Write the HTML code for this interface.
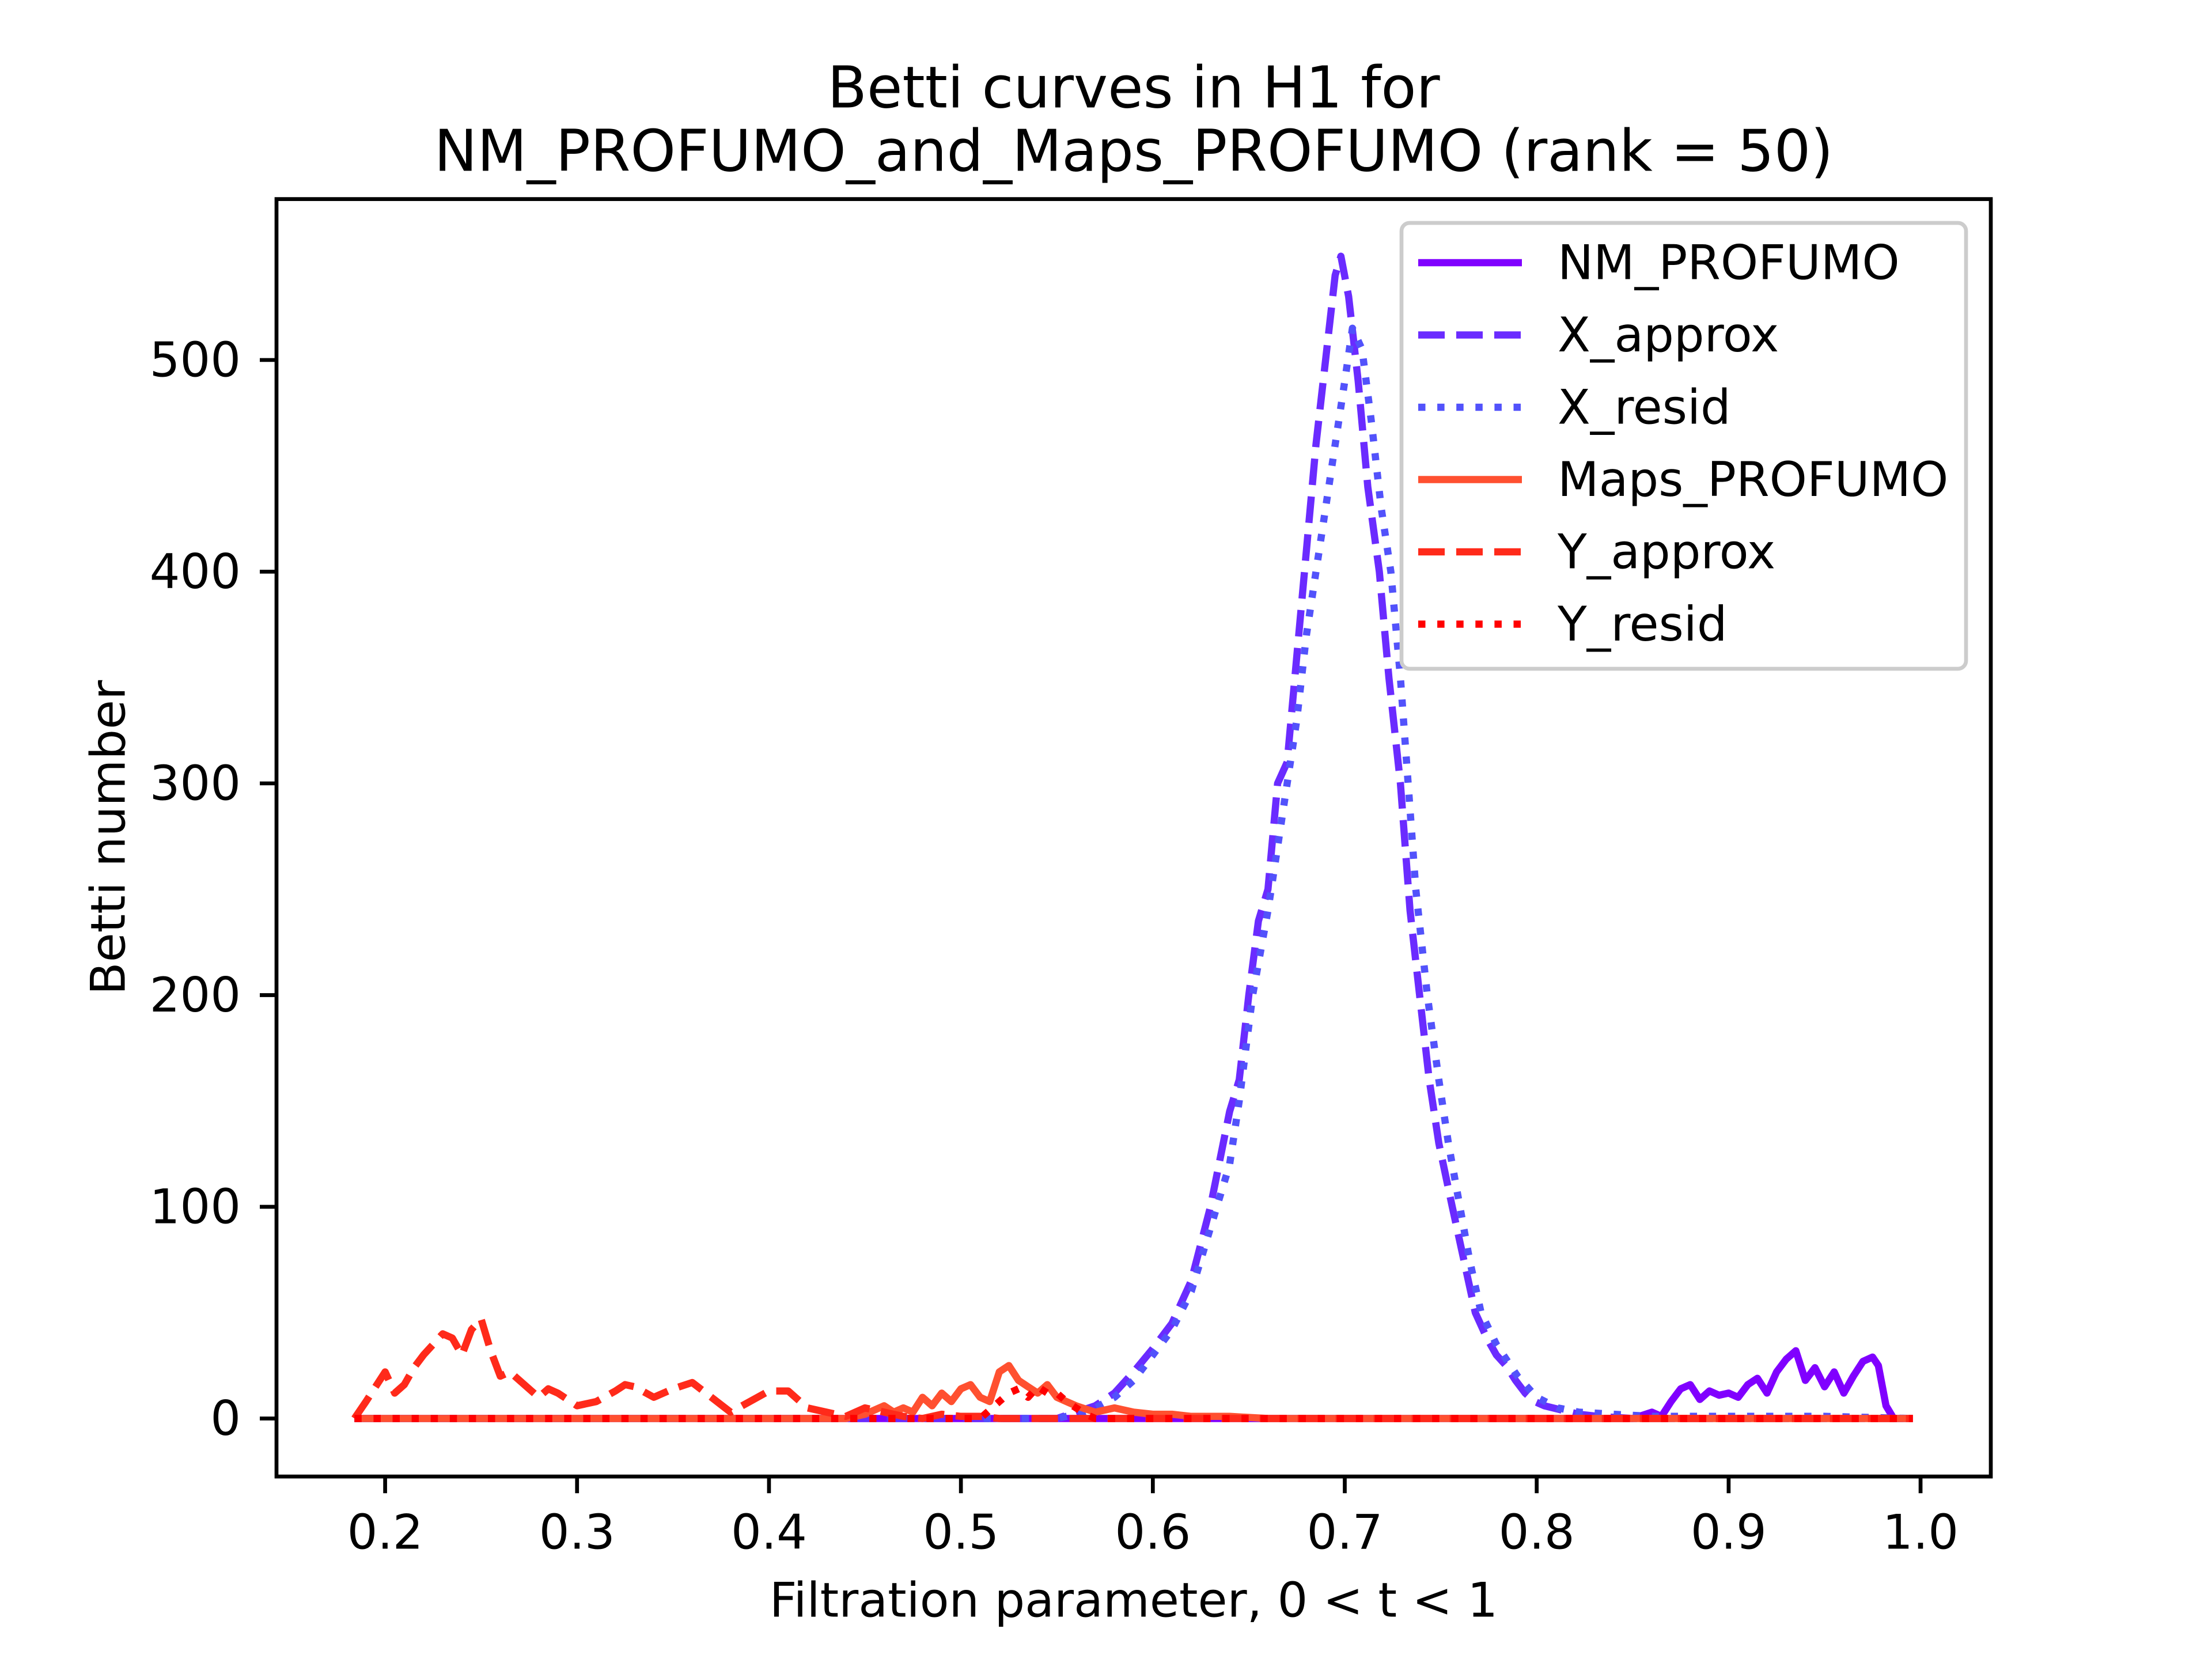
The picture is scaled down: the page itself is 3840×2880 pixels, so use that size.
<!DOCTYPE html>
<html><head><meta charset="utf-8"><style>
html,body{margin:0;padding:0;background:#fff;}
svg{display:block;font-family:"DejaVu Sans","Liberation Sans",sans-serif;}
</style></head><body>
<svg id="chart" width="3840" height="2880" viewBox="0 0 3840 2880" xmlns="http://www.w3.org/2000/svg">
<rect width="3840" height="2880" fill="#fff"/>
<text x="1968" y="152" font-size="100" text-anchor="middle" dominant-baseline="central">Betti curves in H1 for</text>
<text x="1968" y="262" font-size="100" text-anchor="middle" dominant-baseline="central">NM_PROFUMO_and_Maps_PROFUMO (rank = 50)</text>
<g id="plot"></g>
<g id="axes"></g>
<text x="1968" y="2778" font-size="83" text-anchor="middle" dominant-baseline="central">Filtration parameter, 0 &lt; t &lt; 1</text>
<text x="188" y="1454" font-size="83" text-anchor="middle" dominant-baseline="central" transform="rotate(-90 188 1454)">Betti number</text>
<g id="legend"></g>
</svg>
<script>
const xTicks = [0.2,0.3,0.4,0.5,0.6,0.7,0.8,0.9,1.0];
const xTickLabels = ["0.2","0.3","0.4","0.5","0.6","0.7","0.8","0.9","1.0"];
const yTicks = [0,100,200,300,400,500];
const yTickLabels = ["0","100","200","300","400","500"];
const seriesNames = ["NM_PROFUMO","X_approx","X_resid","Maps_PROFUMO","Y_approx","Y_resid"];

const nmT = [0.184,0.85,0.86,0.865,0.87,0.875,0.88,0.885,0.89,0.895,0.9,0.905,0.91,0.915,0.92,0.925,0.93,0.935,0.94,0.945,0.95,0.955,0.96,0.965,0.97,0.975,0.978,0.982,0.986,0.996];
const nmV = [0,0,3,1,8,14,16,9,13,11,12,10,16,19,12,22,28,32,18,24,15,22,12,20,27,29,25,6,0,0];

const xaT = [0.184,0.55,0.56,0.57,0.58,0.59,0.6,0.61,0.62,0.63,0.64,0.645,0.65,0.655,0.66,0.665,0.67,0.675,0.68,0.685,0.69,0.695,0.698,0.702,0.707,0.712,0.718,0.723,0.729,0.734,0.739,0.744,0.749,0.756,0.762,0.768,0.774,0.779,0.784,0.789,0.794,0.799,0.804,0.813,0.822,0.832,0.85,0.996];
const xaV = [0,0,3,6,12,22,33,45,65,100,145,160,200,235,250,300,310,360,410,460,500,540,549,530,490,440,400,350,300,240,200,160,130,100,75,50,38,30,25,18,12,8,6,4,2,1,0,0];

const xrT = [0.184,0.55,0.56,0.57,0.58,0.59,0.6,0.61,0.62,0.63,0.64,0.645,0.652,0.66,0.665,0.67,0.675,0.68,0.685,0.69,0.695,0.7,0.704,0.709,0.714,0.719,0.724,0.729,0.733,0.737,0.743,0.749,0.754,0.76,0.765,0.771,0.779,0.79,0.8,0.811,0.822,0.84,0.86,0.9,0.95,0.996];
const xrV = [0,0,2,5,10,18,30,42,60,90,120,150,200,240,270,300,330,370,400,430,460,490,515,505,470,430,400,350,300,250,200,160,130,100,75,50,35,20,10,5,3,2,1,1,1,0];

const mpT = [0.184,0.44,0.45,0.46,0.465,0.47,0.475,0.48,0.485,0.49,0.495,0.5,0.505,0.51,0.515,0.52,0.525,0.53,0.535,0.54,0.545,0.55,0.555,0.56,0.57,0.58,0.59,0.6,0.61,0.62,0.64,0.66,0.996];
const mpV = [0,0,2,6,3,5,3,10,6,12,8,14,16,10,8,22,25,18,15,12,16,10,8,6,3,5,3,2,2,1,1,0,0];

const yaT = [0.184,0.19,0.2,0.205,0.21,0.215,0.22,0.225,0.23,0.235,0.24,0.245,0.25,0.255,0.26,0.265,0.27,0.28,0.285,0.29,0.3,0.31,0.32,0.325,0.33,0.34,0.35,0.36,0.37,0.38,0.39,0.4,0.41,0.42,0.43,0.44,0.45,0.46,0.47,0.48,0.49,0.5,0.51,0.52,0.53,0.996];
const yaV = [0,8,22,12,16,24,30,35,40,38,30,42,47,32,20,22,18,10,14,12,6,8,13,16,15,10,14,17,10,3,8,13,13,5,3,1,5,3,1,0,2,1,1,0,0,0];

const yrT = [0.184,0.51,0.515,0.52,0.525,0.53,0.535,0.54,0.545,0.55,0.555,0.56,0.565,0.57,0.996];
const yrV = [0,0,4,8,12,14,10,15,12,12,8,5,2,0,0];

const X0=480,X1=3456,Y0=345.6,Y1=2563.2;
const xmin=0.1434,xmax=1.0366,ymin=-27.4,ymax=576.0;
function sx(t){return X0+(t-xmin)/(xmax-xmin)*(X1-X0);}
function sy(v){return Y1-(v-ymin)/(ymax-ymin)*(Y1-Y0);}
const NS="http://www.w3.org/2000/svg";
function mk(tag,attrs,parent){const e=document.createElementNS(NS,tag);for(const k in attrs)e.setAttribute(k,attrs[k]);parent.appendChild(e);return e;}

const plot=document.getElementById('plot');
const clip=mk('clipPath',{id:'clipA'},plot);
mk('rect',{x:X0,y:Y0,width:X1-X0,height:Y1-Y0},clip);
const styles=[
 {c:"#8000ff",d:"none"},
 {c:"#6a2bff",d:"46 20"},
 {c:"#5252fb",d:"12.5 20.6"},
 {c:"#ff5030",d:"none"},
 {c:"#ff2a1a",d:"46 20"},
 {c:"#ff0000",d:"12.5 20.6"}];
const allT=[nmT,xaT,xrT,mpT,yaT,yrT];
const allV=[nmV,xaV,xrV,mpV,yaV,yrV];
const lineNames=["line-nm-profumo","line-x-approx","line-x-resid","line-maps-profumo","line-y-approx","line-y-resid"];
for(let i=0;i<6;i++){
  let d="";
  for(let j=0;j<allT[i].length;j++){d+=(j?"L":"M")+sx(allT[i][j]).toFixed(1)+","+sy(allV[i][j]).toFixed(1);}
  const p=mk('path',{d:d,fill:"none",stroke:styles[i].c,"stroke-width":12.5,"stroke-dasharray":styles[i].d,"stroke-linejoin":"round","stroke-linecap":"butt","clip-path":"url(#clipA)"},plot);
  
  
}

const axes=document.getElementById('axes');
const frame=mk('rect',{x:X0,y:Y0,width:X1-X0,height:Y1-Y0,fill:"none",stroke:"#000","stroke-width":6.7},axes);


xTicks.forEach((t,i)=>{
  const x=sx(t);
  const tk=mk('line',{x1:x,x2:x,y1:Y1,y2:Y1+29,stroke:"#000","stroke-width":6.7},axes);
  
  
  const lb=mk('text',{x:x,y:2660,"font-size":83,"text-anchor":"middle","dominant-baseline":"central"},axes);
  lb.textContent=xTickLabels[i];
  
  
});
yTicks.forEach((v,i)=>{
  const y=sy(v);
  const tk=mk('line',{x1:X0-29,x2:X0,y1:y,y2:y,stroke:"#000","stroke-width":6.7},axes);
  
  
  const lb=mk('text',{x:418,y:y,"font-size":83,"text-anchor":"end","dominant-baseline":"central"},axes);
  lb.textContent=yTickLabels[i];
  
  
});

const lg=document.getElementById('legend');
const box=mk('rect',{x:2433,y:387,width:980,height:774,rx:14,fill:"#fff","fill-opacity":0.8,stroke:"#cccccc","stroke-width":6.7},lg);


for(let i=0;i<6;i++){
  const y=456+i*125.5;
  const ln=mk('line',{x1:2462,x2:2642,y1:y,y2:y,stroke:styles[i].c,"stroke-width":12.5,"stroke-dasharray":styles[i].d},lg);
  
  
  const tx=mk('text',{x:2704,y:y,"font-size":83,"dominant-baseline":"central"},lg);
  tx.textContent=seriesNames[i];
  
  
}
</script>
</body></html>
